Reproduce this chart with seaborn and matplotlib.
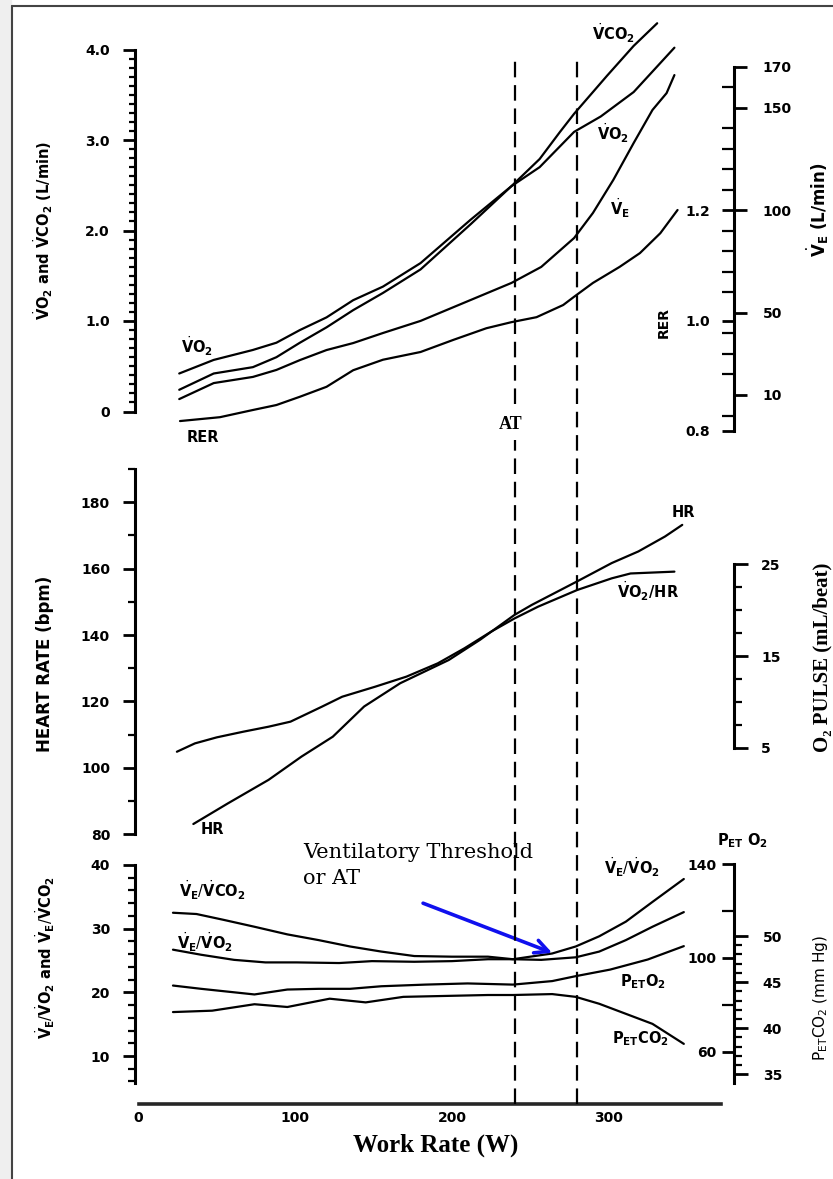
import numpy as np
import matplotlib
matplotlib.use('Agg')
import matplotlib.pyplot as plt
from matplotlib.patches import Rectangle
from matplotlib.lines import Line2D
import seaborn as sns

# %% data (work rate in W)
at_lines = [240, 280]

top_vo2_w = [26, 48, 73, 88, 103, 120, 137, 156, 180, 212, 238, 256, 278, 295, 316, 342]
top_vo2 = [0.42, 0.57, 0.68, 0.76, 0.90, 1.04, 1.23, 1.38, 1.64, 2.12, 2.49, 2.70, 3.09, 3.26, 3.53, 4.02]
top_vco2_w = [26, 48, 73, 88, 103, 120, 137, 156, 180, 212, 238, 256, 269, 278, 299, 316, 331]
top_vco2 = [0.24, 0.42, 0.49, 0.60, 0.76, 0.93, 1.12, 1.31, 1.57, 2.07, 2.49, 2.79, 3.09, 3.29, 3.71, 4.04, 4.29]
top_ve_w = [26, 48, 73, 88, 103, 120, 137, 156, 180, 212, 238, 257, 278, 290, 303, 316, 328, 337, 342]
top_ve = [8.0, 15.8, 18.8, 22.2, 27.0, 31.9, 35.3, 40.2, 46.1, 56.3, 64.6, 72.4, 86.5, 98.7, 114.8, 132.8, 148.9, 157.1, 165.9]
top_rer_w = [26.5, 52, 73, 88, 103, 120, 137, 156, 180, 201, 222, 238, 254, 271, 278, 290, 307, 320, 333, 344]
top_rer = [0.818, 0.825, 0.838, 0.847, 0.862, 0.880, 0.910, 0.929, 0.943, 0.965, 0.986, 0.997, 1.006, 1.028,
           1.043, 1.068, 1.097, 1.122, 1.158, 1.200]

mid_hr_w = [35, 57, 83, 104, 124, 144, 167, 198, 218, 240, 251, 280, 302, 319, 336, 347]
mid_hr = [83.1, 89.3, 96.4, 103.4, 109.4, 118.5, 125.5, 132.5, 138.6, 146.1, 149.1, 156.2, 161.7, 165.2, 169.7, 173.2]
mid_pulse_w = [24.5, 36, 50, 67, 83, 97, 117, 130, 151, 171, 191, 208, 225, 240, 255, 280, 302, 314, 342]
mid_pulse = [4.56, 5.47, 6.13, 6.75, 7.29, 7.84, 9.47, 10.56, 11.65, 12.75, 14.2, 15.84, 17.65, 19.1, 20.38,
             22.2, 23.47, 24.0, 24.2]

bot_vevco2_w = [22, 37, 54, 74, 95, 115, 135, 155, 176, 200, 223, 239, 257, 279, 294, 311, 328, 348]
bot_vevco2 = [32.5, 32.3, 31.4, 30.3, 29.1, 28.2, 27.2, 26.4, 25.7, 25.6, 25.6, 25.2, 25.1, 25.5, 26.4, 28.2, 30.3, 32.6]
bot_vevo2_w = [22, 40, 61, 81, 101, 128, 149, 176, 200, 223, 239, 250, 264, 279, 294, 311, 328, 348]
bot_vevo2 = [26.7, 25.9, 25.1, 24.7, 24.7, 24.6, 24.9, 24.8, 24.9, 25.2, 25.2, 25.6, 26.1, 27.2, 28.8, 31.1, 34.2, 37.8]
bot_peto2_w = [22, 40, 74, 95, 115, 135, 155, 183, 210, 239, 264, 279, 301, 325, 348]
bot_peto2 = [88.2, 86.8, 84.4, 86.5, 86.8, 86.8, 87.9, 88.6, 89.1, 88.6, 90.1, 92.2, 95.0, 99.3, 105.0]
bot_petco2_w = [22, 47, 74, 95, 122, 145, 169, 196, 223, 239, 264, 279, 294, 311, 328, 348]
bot_petco2 = [41.75, 41.9, 42.6, 42.3, 43.2, 42.8, 43.4, 43.5, 43.6, 43.6, 43.7, 43.4, 42.65, 41.56, 40.47, 38.3]

# %% style
sns.set_style('white')
plt.rcParams['font.family'] = ['DejaVu Sans']
plt.rcParams['mathtext.fontset'] = 'dejavusans'
for k in ('text.color', 'axes.labelcolor', 'xtick.color', 'ytick.color'):
    plt.rcParams[k] = 'black'
SERIF = ['Liberation Serif', 'DejaVu Serif']

FW, FH = 833, 1179
X0, PXW, WMAX = 138.5, 1.567, 372
LX = (135 - X0) / (WMAX * PXW)
RX = (733.5 - X0) / (WMAX * PXW)
LW = 1.6

fig = plt.figure(figsize=(FW / 100, FH / 100), dpi=100)


def fx(x):
    return x / FW


def fy(y):
    return 1 - y / FH


def make_axes(top, bottom):
    ax = fig.add_axes([fx(X0), fy(bottom), WMAX * PXW / FW, (bottom - top) / FH])
    ax.set_xlim(0, WMAX)
    return ax


def ylims(vref, yref, ppu, top, bottom):
    return vref - (bottom - yref) / ppu, vref + (yref - top) / ppu


def clean(ax):
    for s in ax.spines.values():
        s.set_visible(False)
    ax.set_xticks([])
    ax.patch.set_alpha(0)


def show_spine(ax, side, pos, bounds=None, visible=True):
    # position first: set_position resets the tick objects
    sp = ax.spines[side]
    sp.set_position(('axes', pos))
    sp.set_visible(visible)
    if bounds is not None:
        sp.set_bounds(*bounds)
    sp.set_linewidth(2.2)
    sp.set_color('black')


def yticks(ax, major, labels, minor=None, direction='out', mdirection=None,
           length=9, mlength=5, pad=8, side='left'):
    if side == 'left':
        ax.yaxis.tick_left()
    else:
        ax.yaxis.tick_right()
    ax.set_yticks(major)
    ax.set_yticklabels(labels, fontweight='bold', fontsize=10, color='black')
    if minor is not None:
        ax.set_yticks(minor, minor=True)
    ax.tick_params(axis='y', which='major', direction=direction, length=length,
                   width=2, pad=pad, color='black', labelcolor='black')
    ax.tick_params(axis='y', which='minor', direction=mdirection or direction,
                   length=mlength, width=1.6, color='black')


def lab(x, y, s, size=10.5, weight='bold', **kw):
    fig.text(fx(x), fy(y), s, fontsize=size, fontweight=weight, ha='center', va='center', **kw)


def line(ax, w, v):
    sns.lineplot(x=w, y=v, ax=ax, color='black', lw=LW)


# %% top panel: VO2, VCO2, VE, RER
ax1 = make_axes(15, 433)
ax1.set_ylim(ylims(0, 411.5, 90.5, 15, 433))
ax1v = ax1.twinx()
ax1v.set_ylim(ylims(0, 415.5, 2.052, 15, 433))
ax1r = ax1.twinx()
ax1r.set_ylim(ylims(0.8, 431, 552.5, 15, 433))
for a in (ax1, ax1v, ax1r):
    clean(a)

line(ax1, top_vo2_w, top_vo2)
line(ax1, top_vco2_w, top_vco2)
line(ax1v, top_ve_w, top_ve)
line(ax1r, top_rer_w, top_rer)

show_spine(ax1, 'left', LX, (0, 4))
yticks(ax1, [0, 1, 2, 3, 4], ['0', '1.0', '2.0', '3.0', '4.0'],
       minor=np.arange(0, 4.01, 0.1), length=9, mlength=4.5, pad=9)
show_spine(ax1v, 'right', RX, (ax1v.get_ylim()[0] + 1, 170))
yticks(ax1v, [10, 50, 100, 150, 170], ['10', '50', '100', '150', '170'],
       minor=np.arange(0, 171, 10), direction='out', mdirection='in',
       length=9, mlength=9, pad=12, side='right')
show_spine(ax1r, 'left', RX, visible=False)
yticks(ax1r, [0.8, 1.0, 1.2], ['0.8', '1.0', '1.2'], length=9, pad=8, side='left')

lab(197, 346, r'$\dot{\mathbf{V}}\mathbf{O_2}$')
lab(203, 437, 'RER')
lab(613, 33, r'$\dot{\mathbf{V}}\mathbf{CO_2}$')
lab(613, 133, r'$\dot{\mathbf{V}}\mathbf{O_2}$')
lab(620, 208, r'$\dot{\mathbf{V}}_{\mathbf{E}}$')
lab(43, 230, r'$\dot{\mathbf{V}}\mathbf{O_2}$ and $\dot{\mathbf{V}}\mathbf{CO_2}$ (L/min)', size=10.5, rotation=90)
lab(664, 323, 'RER', size=10, rotation=90)
lab(818, 210, r'$\dot{\mathbf{V}}_{\mathbf{E}}$ (L/min)', size=12, rotation=90)

# %% middle panel: HR and O2 pulse
ax2 = make_axes(467, 835)
ax2.set_ylim(ylims(80, 834.3, 3.32, 467, 835))
ax2p = ax2.twinx()
ax2p.set_ylim(ylims(5, 747.7, 9.17, 467, 835))
for a in (ax2, ax2p):
    clean(a)

line(ax2, mid_hr_w, mid_hr)
line(ax2p, mid_pulse_w, mid_pulse)

show_spine(ax2, 'left', LX, (80, 190))
yticks(ax2, np.arange(80, 181, 20), [str(v) for v in range(80, 181, 20)],
       minor=np.arange(90, 191, 20), length=9, mlength=5, pad=9)
show_spine(ax2p, 'right', RX, (5, 25))
yticks(ax2p, [5, 15, 25], ['5', '15', '25'], minor=np.arange(5, 25.1, 2.5),
       length=10, mlength=6, pad=10, side='right')

lab(683, 513, 'HR')
lab(212, 829, 'HR')
lab(648, 591, r'$\dot{\mathbf{V}}\mathbf{O_2}$/HR')
lab(45, 664, 'HEART RATE (bpm)', size=12, rotation=90)
lab(822, 657, 'O₂ PULSE (mL/beat)', size=15, rotation=90, family=SERIF)

# %% bottom panel: ventilatory equivalents and end-tidal pressures
ax3 = make_axes(840, 1083)
ax3.set_ylim(ylims(10, 1056, 6.367, 840, 1083))
ax3o = ax3.twinx()
ax3o.set_ylim(ylims(60, 1051.7, 2.346, 840, 1083))
ax3c = ax3.twinx()
ax3c.set_ylim(ylims(35, 1074.3, 9.22, 840, 1083))
for a in (ax3, ax3o, ax3c):
    clean(a)

line(ax3, bot_vevco2_w, bot_vevco2)
line(ax3, bot_vevo2_w, bot_vevo2)
line(ax3o, bot_peto2_w, bot_peto2)
line(ax3c, bot_petco2_w, bot_petco2)

show_spine(ax3, 'left', LX, (ax3.get_ylim()[0], 40))
yticks(ax3, [10, 20, 30, 40], ['10', '20', '30', '40'],
       minor=np.arange(6, 40.1, 2), length=9, mlength=5, pad=9)
show_spine(ax3o, 'left', RX, (ax3o.get_ylim()[0], 140))
yticks(ax3o, [60, 100, 140], ['60', '100', '140'], minor=[80, 120],
       length=9, mlength=9, pad=3, side='left')
show_spine(ax3c, 'right', RX, visible=False)
yticks(ax3c, [35, 40, 45, 50], ['35', '40', '45', '50'], minor=np.arange(35, 50.1, 1),
       length=10, mlength=6, pad=11, side='right')

ax3.annotate('', xy=(264, 26.2), xytext=(181.6, 34.0),
             arrowprops=dict(arrowstyle='->', color='#1010ee', lw=2.6,
                             mutation_scale=24, shrinkA=0, shrinkB=0))

lab(212, 890, r'$\dot{\mathbf{V}}_{\mathbf{E}}/\dot{\mathbf{V}}\mathbf{CO_2}$')
lab(205, 942, r'$\dot{\mathbf{V}}_{\mathbf{E}}/\dot{\mathbf{V}}\mathbf{O_2}$')
lab(632, 867, r'$\dot{\mathbf{V}}_{\mathbf{E}}/\dot{\mathbf{V}}\mathbf{O_2}$')
lab(643, 982, r'$\mathbf{P}_{\mathbf{ET}}\mathbf{O_2}$')
lab(640, 1039, r'$\mathbf{P}_{\mathbf{ET}}\mathbf{CO_2}$')
lab(742, 841, r'$\mathbf{P}_{\mathbf{ET}}\ \mathbf{O_2}$')
lab(45, 958, r'$\dot{\mathbf{V}}_{\mathbf{E}}/\dot{\mathbf{V}}\mathbf{O_2}$ and $\dot{\mathbf{V}}_{\mathbf{E}}/\dot{\mathbf{V}}\mathbf{CO_2}$',
    size=10.5, rotation=90)
lab(821, 998, r'$\mathrm{P}_{\mathrm{ET}}\mathrm{CO_2}$ (mm Hg)', size=11, weight='normal', rotation=90)
fig.text(fx(303), fy(853), 'Ventilatory Threshold', fontsize=15, family=['DejaVu Serif'],
         ha='left', va='center')
fig.text(fx(303), fy(879), 'or AT', fontsize=15, family=['DejaVu Serif'],
         ha='left', va='center')

# %% shared work-rate axis
axx = fig.add_axes([fx(X0), fy(1104), WMAX * PXW / FW, 14 / FH])
axx.set_xlim(0, WMAX)
for s in axx.spines.values():
    s.set_visible(False)
axx.spines['bottom'].set_visible(True)
axx.spines['bottom'].set_linewidth(2.6)
axx.spines['bottom'].set_bounds(0, WMAX)
axx.set_yticks([])
axx.patch.set_alpha(0)
axx.set_xticks([0, 100, 200, 300])
axx.set_xticklabels(['0', '100', '200', '300'], fontweight='bold', fontsize=10)
axx.set_xticks(np.arange(0, WMAX + 1, 10), minor=True)
axx.tick_params(axis='x', which='major', direction='in', length=10, width=1.8, pad=5)
axx.tick_params(axis='x', which='minor', direction='in', length=5.5, width=1.5)
fig.text(fx(436), fy(1145), 'Work Rate (W)', fontsize=18, fontweight='bold',
         family=SERIF, ha='center', va='center')

# %% threshold lines through all panels
axo = fig.add_axes([fx(X0), fy(1104), WMAX * PXW / FW, (1104 - 55) / FH])
axo.set_xlim(0, WMAX)
axo.axis('off')
for w in at_lines:
    axo.axvline(w, color='black', lw=1.6, ls=(0, (7, 3.5)))
fig.text(fx(511), fy(425), 'AT', fontsize=13, fontweight='bold', family=SERIF,
         ha='center', va='center', bbox=dict(fc='white', ec='none', pad=5))

# %% page frame
fig.patches.append(Rectangle((0, 0), fx(11), 1, transform=fig.transFigure,
                             color='#efefef', zorder=-1))
fig.add_artist(Line2D([fx(12), fx(12)], [0, fy(6)], color='#444444', lw=1.5))
fig.add_artist(Line2D([fx(12), 1], [fy(6), fy(6)], color='#444444', lw=1.5))

fig.savefig('out.png', dpi=100, facecolor='white')
